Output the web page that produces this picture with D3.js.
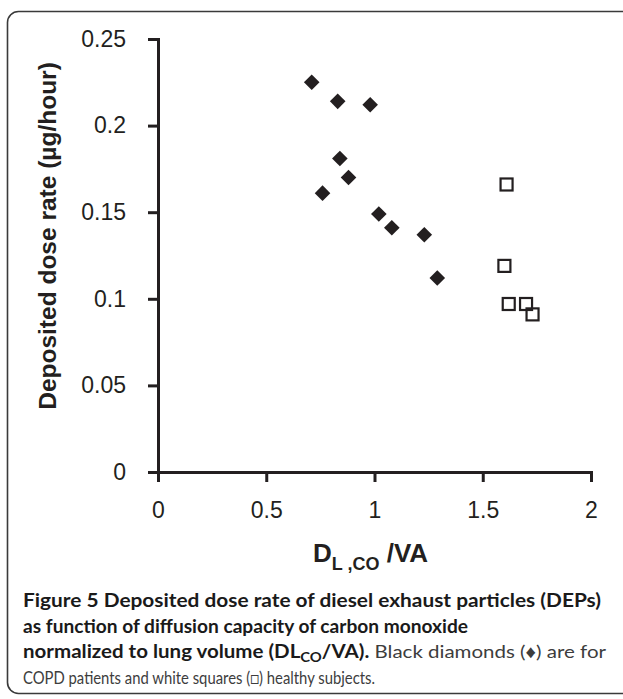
<!DOCTYPE html>
<html><head><meta charset="utf-8">
<script src="https://cdn.jsdelivr.net/npm/d3@7"></script>
<style>
html,body{margin:0;padding:0;background:#fff;}
svg{display:block;}
</style></head>
<body>
<svg id="chart" width="623" height="699"></svg>
<script>
// Data
const copdX = [0.71, 0.83, 0.98, 0.84, 0.88, 0.76, 1.02, 1.08, 1.23, 1.29];
const copdY = [0.225, 0.214, 0.212, 0.181, 0.170, 0.161, 0.149, 0.141, 0.137, 0.112];
const healthyX = [1.61, 1.60, 1.62, 1.70, 1.73];
const healthyY = [0.166, 0.119, 0.097, 0.097, 0.091];
const xTicks = [0, 0.5, 1, 1.5, 2];
const yTicks = [0, 0.05, 0.1, 0.15, 0.2, 0.25];
const yTitle = "Deposited dose rate (µg/hour)";

const ink = "#231f20";
const svg = d3.select("#chart");

// frame
svg.append("rect").attr("x", 7.5).attr("y", 11.5).attr("width", 640).attr("height", 682)
  .attr("rx", 11).attr("fill", "none").attr("stroke", "#3a3a3a").attr("stroke-width", 1.6);

const x = d3.scaleLinear().domain([0, 2]).range([158, 591]);
const y = d3.scaleLinear().domain([0, 0.25]).range([472, 39]);

const fmt = d => d3.format("")(d);

const gx = svg.append("g").attr("transform", `translate(0,${y(0)})`)
  .call(d3.axisBottom(x).tickValues(xTicks).tickSize(10).tickSizeOuter(10).tickPadding(20).tickFormat(fmt));
const gy = svg.append("g").attr("transform", `translate(${x(0)},0)`)
  .call(d3.axisLeft(y).tickValues(yTicks).tickSize(10).tickSizeOuter(10).tickPadding(22).tickFormat(fmt));

[gx, gy].forEach(g => {
  g.selectAll("path.domain").attr("stroke", ink).attr("stroke-width", 3);
  g.selectAll(".tick line").attr("stroke", ink).attr("stroke-width", 3);
  g.selectAll(".tick text").attr("fill", ink).style("font-family", "'Liberation Sans', Arial, sans-serif").style("font-size", "23px");
});

// COPD diamonds
const dsz = 7.8;
svg.append("g").selectAll("path").data(copdX.map((v, i) => [v, copdY[i]])).join("path")
  .attr("d", d => `M${x(d[0])},${y(d[1]) - dsz}L${x(d[0]) + dsz},${y(d[1])}L${x(d[0])},${y(d[1]) + dsz}L${x(d[0]) - dsz},${y(d[1])}Z`)
  .attr("fill", ink);

// Healthy squares
const ssz = 12;
svg.append("g").selectAll("rect").data(healthyX.map((v, i) => [v, healthyY[i]])).join("rect")
  .attr("x", d => x(d[0]) - ssz / 2).attr("y", d => y(d[1]) - ssz / 2)
  .attr("width", ssz).attr("height", ssz)
  .attr("fill", "none").attr("stroke", ink).attr("stroke-width", 2.2);

// Y title
svg.append("text").attr("transform", "translate(56,236) rotate(-90)")
  .attr("text-anchor", "middle").attr("fill", ink)
  .style("font-family", "'Liberation Sans', Arial, sans-serif").style("font-size", "24.5px").style("font-weight", "bold")
  .text(yTitle);

// X title
const xt = svg.append("text").attr("x", 313).attr("y", 562).attr("fill", ink)
  .style("font-family", "'Liberation Sans', Arial, sans-serif").style("font-weight", "bold").style("font-size", "26px");
xt.append("tspan").text("D");
xt.append("tspan").attr("dy", 8).style("font-size", "18px").text("L ,CO");
xt.append("tspan").attr("dy", -8).text(" /VA");

// Caption
const capFont = "Lato, 'Open Sans', sans-serif";
const capLines = [
  {y: 607, w: 578, parts: [{t: "Figure 5 Deposited dose rate of diesel exhaust particles (DEPs)", b: true}]},
  {y: 633, w: 445, parts: [{t: "as function of diffusion capacity of carbon monoxide", b: true}]},
  {y: 658, w: 583, parts: [{t: "normalized to lung volume (DL", b: true}, {t: "CO", b: true, sub: true}, {t: "/VA).", b: true}, {t: " Black diamonds (♦) are for", b: false}]},
  {y: 684, w: 352, parts: [{t: "COPD patients and white squares (□) healthy subjects.", b: false}]}
];
capLines.forEach(L => {
  const t = svg.append("text").attr("x", 23).attr("y", L.y)
    .style("font-family", capFont).style("font-size", "18px")
    .attr("textLength", L.w).attr("lengthAdjust", "spacingAndGlyphs");
  L.parts.forEach(p => {
    const s = t.append("tspan").text(p.t)
      .style("font-weight", p.b ? "bold" : "normal")
      .attr("fill", p.b ? "#1a1a1a" : "#3d3d3d");
    if (p.sub) { s.attr("dy", 4).style("font-size", "13px"); }
    else if (p.t === "/VA).") { s.attr("dy", -4); }
  });
});
</script>
</body></html>
